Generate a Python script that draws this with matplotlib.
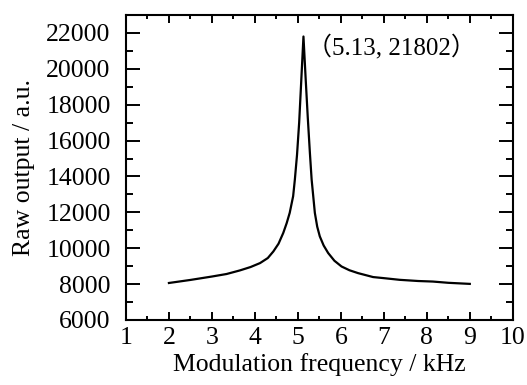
import matplotlib
matplotlib.use('Agg')
import matplotlib.pyplot as plt
from matplotlib.ticker import MultipleLocator

plt.rcParams['font.family'] = ['Liberation Serif', 'Noto Sans CJK SC']

# Modulation frequency (kHz) vs raw output (a.u.)
freq = [2.0, 2.5, 3.0, 3.34, 3.65, 3.9, 4.12, 4.3, 4.43, 4.55, 4.66, 4.74,
        4.81, 4.89, 4.93, 4.98, 5.03, 5.08, 5.13, 5.18, 5.23, 5.28, 5.32,
        5.395, 5.45, 5.51, 5.6, 5.705, 5.85, 6.016, 6.2, 6.4, 6.75, 7.0,
        7.37, 7.8, 8.14, 8.5, 9.0]
raw = [8060, 8230, 8420, 8560, 8760, 8950, 9170, 9450, 9820, 10250, 10850,
       11400, 11970, 12900, 13830, 15200, 17000, 19400, 21802, 19500, 17300,
       15300, 13830, 11970, 11200, 10660, 10150, 9730, 9300, 8980, 8770,
       8610, 8390, 8330, 8236, 8170, 8140, 8070, 8010]
peak_x, peak_y = 5.13, 21802

fig = plt.figure(figsize=(5.27, 3.85), dpi=100)
ax = fig.add_axes([0.239, 0.169, 0.734, 0.792])

ax.plot(freq, raw, color='black', lw=1.6)
ax.annotate(f'（{peak_x}, {peak_y}）', xy=(5.22, 21200), ha='left',
            va='center', fontsize=18,
            family=['Liberation Serif', 'Noto Sans CJK SC'])

ax.set_xlim(1, 10)
ax.set_ylim(6000, 23000)
ax.xaxis.set_major_locator(MultipleLocator(1))
ax.xaxis.set_minor_locator(MultipleLocator(0.5))
ax.yaxis.set_major_locator(MultipleLocator(2000))
ax.yaxis.set_minor_locator(MultipleLocator(1000))

ax.tick_params(axis='both', which='both', direction='in', top=True,
               right=True, width=1.4, labelsize=18.5)
ax.tick_params(axis='x', which='major', length=6, pad=5)
ax.tick_params(axis='x', which='minor', length=3)
ax.tick_params(axis='y', which='major', length=10, pad=11)
ax.tick_params(axis='y', which='minor', length=5)
for s in ax.spines.values():
    s.set_linewidth(1.5)

ax.set_xlabel('Modulation frequency / kHz', fontsize=18.5, labelpad=3)
ax.set_ylabel('Raw output / a.u.', fontsize=18.5, labelpad=8)

fig.savefig('out.png', dpi=100)
